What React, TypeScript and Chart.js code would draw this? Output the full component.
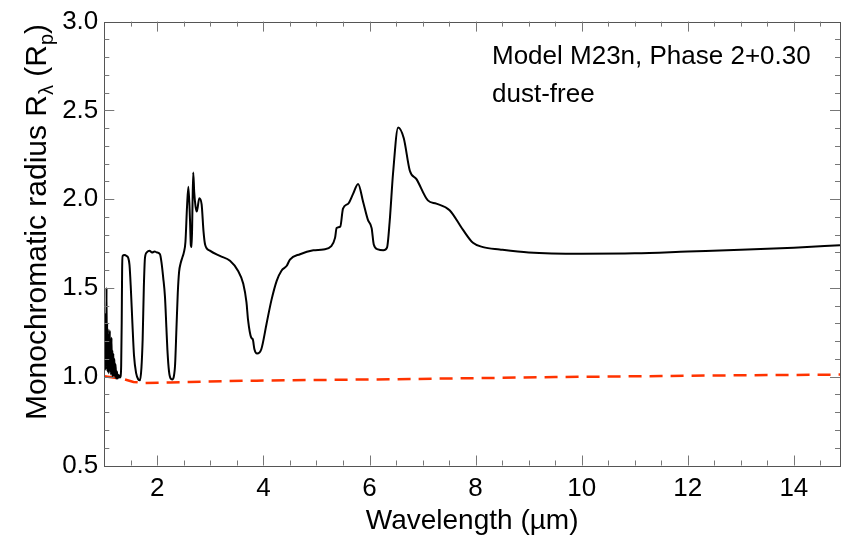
import React, { useEffect, useRef } from "react";
import { Chart, registerables } from "chart.js";

Chart.register(...registerables);

// Black curve: monochromatic radius (dust-free model)
const modelWavelength = [
  1.0, 1.006, 1.012, 1.018, 1.024, 1.03, 1.036, 1.042, 1.048, 1.054, 1.06, 1.066, 1.072, 1.078, 1.084,
  1.09, 1.096, 1.104, 1.112, 1.12, 1.128, 1.136, 1.144, 1.152, 1.16, 1.17, 1.18, 1.19, 1.2, 1.212,
  1.224, 1.238, 1.252, 1.27, 1.29, 1.305, 1.318, 1.328, 1.336, 1.345, 1.38, 1.42, 1.45, 1.475, 1.5,
  1.53, 1.56, 1.6, 1.64, 1.672, 1.7, 1.723, 1.745, 1.767, 1.8, 1.85, 1.9, 1.95, 1.99, 2.05,
  2.08, 2.11, 2.144, 2.17, 2.19, 2.22, 2.25, 2.28, 2.31, 2.335, 2.36, 2.385, 2.41, 2.44, 2.47,
  2.5, 2.53, 2.56, 2.585, 2.615, 2.632, 2.647, 2.662, 2.677, 2.695, 2.72, 2.745, 2.79, 2.835, 2.87,
  2.9, 2.99, 3.18, 3.37, 3.52, 3.62, 3.68, 3.71, 3.77, 3.8, 3.83, 3.88, 3.96, 4.06, 4.15,
  4.25, 4.34, 4.44, 4.5, 4.69, 4.94, 5.13, 5.28, 5.35, 5.38, 5.45, 5.5, 5.6, 5.69, 5.785,
  5.88, 5.97, 6.04, 6.08, 6.16, 6.26, 6.33, 6.38, 6.445, 6.54, 6.646, 6.76, 6.885, 7.1, 7.26,
  7.51, 7.76, 7.95, 8.14, 8.455, 9.0, 10.0, 11.0, 12.0, 13.0, 14.0, 14.87,
];
const modelRadius = [
  1.3, 1.36, 1.1, 1.28, 1.04, 1.22, 1.08, 1.5, 1.06, 1.3, 1.03, 1.27, 1.08, 1.24, 1.02,
  1.2, 1.05, 1.26, 1.03, 1.18, 1.01, 1.22, 1.02, 1.15, 1.0, 1.13, 1.01, 1.1, 1.0, 1.07,
  0.99, 1.03, 0.99, 1.01, 0.995, 1.0, 1.06, 1.3, 1.6, 1.68, 1.685, 1.68, 1.67, 1.63, 1.5,
  1.3, 1.12, 1.02, 0.985, 0.98, 1.05, 1.21, 1.5, 1.67, 1.7, 1.71, 1.7, 1.705, 1.7, 1.69,
  1.64, 1.56, 1.45, 1.28, 1.15, 1.03, 0.99, 0.985, 1.0, 1.07, 1.27, 1.47, 1.59, 1.64, 1.67,
  1.7, 1.76, 1.96, 2.07, 1.89, 1.74, 1.73, 1.95, 2.15, 2.04, 1.96, 1.93, 2.005, 1.97, 1.82,
  1.745, 1.71, 1.68, 1.653, 1.597, 1.524, 1.42, 1.32, 1.22, 1.21, 1.155, 1.131, 1.155, 1.3, 1.43,
  1.54, 1.597, 1.625, 1.66, 1.69, 1.712, 1.717, 1.735, 1.782, 1.837, 1.846, 1.947, 1.975, 2.03, 2.086,
  1.984, 1.883, 1.837, 1.745, 1.717, 1.712, 1.727, 1.874, 2.15, 2.404, 2.343, 2.16, 2.113, 1.993, 1.975,
  1.938, 1.828, 1.754, 1.73, 1.717, 1.7, 1.693, 1.695, 1.705, 1.715, 1.727, 1.74,
];

// Red dashed curve: reference radius
const refWavelength = [
  1.0, 1.23, 1.39, 1.55, 1.77, 2.24, 2.61, 3.24, 3.87, 4.5, 5.5, 6.5, 7.5, 8.5, 9.5, 10.5, 11.5, 12.5, 13.5, 14.87,
];
const refRadius = [
  1.003, 0.993, 0.984, 0.97, 0.965, 0.968, 0.97, 0.975, 0.978, 0.98, 0.983, 0.986, 0.99, 0.994, 0.998,
  1.001, 1.004, 1.007, 1.009, 1.012,
];

const xTickValues = [2, 4, 6, 8, 10, 12, 14];
const yTickValues = [0.5, 1.0, 1.5, 2.0, 2.5, 3.0];
const xTitle = "Wavelength (µm)";
const yTitleParts = [
  { text: "Monochromatic radius R", sub: false },
  { text: "λ", sub: true },
  { text: " (R", sub: false },
  { text: "p", sub: true },
  { text: ")", sub: false },
];
const annotationLines = ["Model M23n, Phase 2+0.30", "dust-free"];

const FONT = "'Liberation Sans', Arial, Helvetica, sans-serif";

const idlFrame = {
  id: "idlFrame",
  afterDatasetsDraw(chart: any) {
    const { ctx, chartArea, scales } = chart;
    const { left, right, top, bottom } = chartArea;
    const xs = scales.x;
    const ys = scales.y;
    ctx.save();
    ctx.strokeStyle = "#555";
    ctx.lineWidth = 1;
    ctx.strokeRect(Math.round(left) + 0.5, Math.round(top) + 0.5, Math.round(right - left), Math.round(bottom - top));
    ctx.strokeStyle = "#777";
    ctx.beginPath();
    for (let i = 2; i <= 30; i++) {
      const v = i * 0.5;
      if (v <= xs.min || v >= xs.max) continue;
      const px = Math.round(xs.getPixelForValue(v)) + 0.5;
      const len = v % 2 === 0 ? 10 : 5;
      ctx.moveTo(px, bottom);
      ctx.lineTo(px, bottom - len);
      ctx.moveTo(px, top);
      ctx.lineTo(px, top + len);
    }
    for (let i = 5; i <= 30; i++) {
      const v = i / 10;
      if (v <= ys.min + 1e-9 || v >= ys.max - 1e-9) continue;
      const py = Math.round(ys.getPixelForValue(v)) + 0.5;
      const len = i % 5 === 0 ? 10 : 5;
      ctx.moveTo(left, py);
      ctx.lineTo(left + len, py);
      ctx.moveTo(right, py);
      ctx.lineTo(right - len, py);
    }
    ctx.stroke();
    ctx.restore();
  },
  afterDraw(chart: any) {
    const { ctx } = chart;
    ctx.save();
    ctx.fillStyle = "#000";
    ctx.font = `26px ${FONT}`;
    ctx.textAlign = "left";
    ctx.textBaseline = "middle";
    ctx.fillText(annotationLines[0], 492, 57);
    ctx.fillText(annotationLines[1], 492, 95);
    const mainFont = `30px ${FONT}`;
    const subFont = `20px ${FONT}`;
    let total = 0;
    for (const p of yTitleParts) {
      ctx.font = p.sub ? subFont : mainFont;
      total += ctx.measureText(p.text).width;
    }
    ctx.translate(46, 222);
    ctx.rotate(-Math.PI / 2);
    ctx.textBaseline = "alphabetic";
    let x = -total / 2;
    for (const p of yTitleParts) {
      ctx.font = p.sub ? subFont : mainFont;
      ctx.fillText(p.text, x, p.sub ? 7 : 0);
      x += ctx.measureText(p.text).width;
    }
    ctx.restore();
  },
};

export default function App() {
  const canvasRef = useRef<HTMLCanvasElement | null>(null);

  useEffect(() => {
    const canvas = canvasRef.current;
    if (!canvas) return;
    const chart = new Chart(canvas, {
      type: "line",
      data: {
        datasets: [
          {
            data: modelWavelength.map((x, i) => ({ x, y: modelRadius[i] })),
            borderColor: "#000",
            borderWidth: 2,
            pointRadius: 0,
            cubicInterpolationMode: "monotone",
          },
          {
            data: refWavelength.map((x, i) => ({ x, y: refRadius[i] })),
            borderColor: "#ff3300",
            borderWidth: 2.5,
            borderDash: [13, 8],
            pointRadius: 0,
            tension: 0,
          },
        ],
      },
      options: {
        animation: false,
        responsive: false,
        devicePixelRatio: 1,
        layout: { padding: { top: 12.8, right: 2, left: 0, bottom: 0 } },
        plugins: { legend: { display: false }, tooltip: { enabled: false } },
        scales: {
          x: {
            type: "linear",
            min: 1,
            max: 14.87,
            afterBuildTicks: (s: any) => {
              s.ticks = xTickValues.map((v) => ({ value: v }));
            },
            afterFit: (s: any) => {
              s.height = 74.5;
            },
            grid: { display: false, drawTicks: false },
            border: { display: false },
            ticks: {
              color: "#000",
              font: { family: FONT, size: 26 },
              padding: 8,
              maxRotation: 0,
              autoSkip: false,
            },
            title: {
              display: true,
              text: xTitle,
              color: "#000",
              font: { family: FONT, size: 28 },
              padding: { top: 0, bottom: 2 },
            },
          },
          y: {
            type: "linear",
            min: 0.5,
            max: 3.0,
            afterBuildTicks: (s: any) => {
              s.ticks = yTickValues.map((v) => ({ value: v }));
            },
            afterFit: (s: any) => {
              s.width = 104.3;
            },
            grid: { display: false, drawTicks: false },
            border: { display: false },
            ticks: {
              color: "#000",
              font: { family: FONT, size: 26 },
              padding: 6,
              callback: (v: any) => Number(v).toFixed(1),
            },
            title: { display: false },
          },
        },
      },
      plugins: [idlFrame],
    });
    return () => chart.destroy();
  }, []);

  return (
    <div style={{ position: "fixed", left: 0, top: 0, width: 842, height: 540, background: "#fff" }}>
      <canvas ref={canvasRef} width={842} height={540} style={{ width: 842, height: 540, display: "block" }} />
    </div>
  );
}
